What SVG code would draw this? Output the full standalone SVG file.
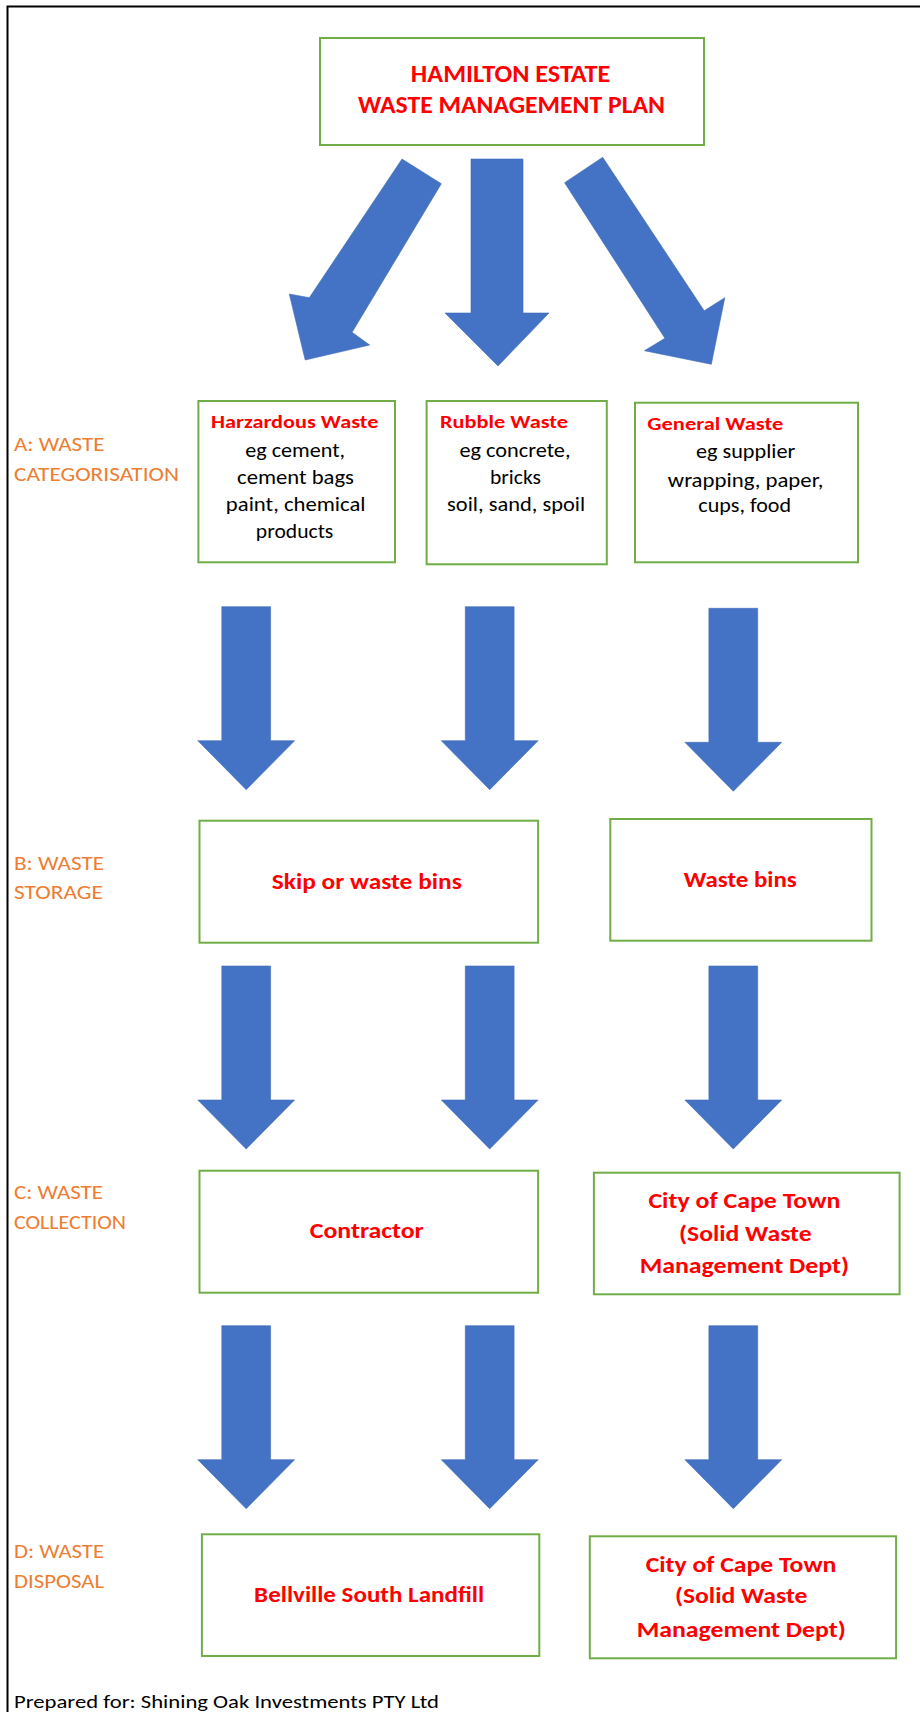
<svg xmlns="http://www.w3.org/2000/svg" width="920" height="1712" viewBox="0 0 920 1712">
<style>
.bg{fill:#ffffff}
.frame{fill:none;stroke:#000000;stroke-width:2}
.box{fill:#ffffff;stroke:#70AD47;stroke-width:2}
.arrow{fill:#4472C4;stroke:#3F6BB8;stroke-width:0.6}
text{font-family:Carlito,Lato,"Liberation Sans",sans-serif}
.title{font-size:24px;font-weight:bold;fill:#FF0000;text-anchor:middle}
.head{font-size:17.5px;font-weight:bold;fill:#FF0000}
.body{font-size:19.5px;fill:#000000;text-anchor:middle}
.lab{font-size:22.5px;font-weight:bold;fill:#FF0000;text-anchor:middle}
.stage{font-size:19.5px;fill:#ED7D31}
.foot{font-size:19px;fill:#000000}
</style>
<defs>
<path id="down" d="M-24.4,0 H24.4 V134 H48.4 L0,183 L-48.4,134 H-24.4 Z"/>
</defs>
<rect class="bg" x="0" y="0" width="920" height="1712"/>
<path class="frame" d="M921,6.5 H7.5 V1713"/>

<g id="stage-labels">
<text class="stage" x="14" y="450.7" textLength="90.5" lengthAdjust="spacingAndGlyphs">A: WASTE</text>
<text class="stage" x="14" y="480.7" textLength="165" lengthAdjust="spacingAndGlyphs">CATEGORISATION</text>
<text class="stage" x="14" y="870" textLength="90" lengthAdjust="spacingAndGlyphs">B: WASTE</text>
<text class="stage" x="14" y="899.3" textLength="89" lengthAdjust="spacingAndGlyphs">STORAGE</text>
<text class="stage" x="14" y="1199.3" textLength="89" lengthAdjust="spacingAndGlyphs">C: WASTE</text>
<text class="stage" x="14" y="1229.3" textLength="112" lengthAdjust="spacingAndGlyphs">COLLECTION</text>
<text class="stage" x="14" y="1558.3" textLength="90" lengthAdjust="spacingAndGlyphs">D: WASTE</text>
<text class="stage" x="14" y="1588.3" textLength="90" lengthAdjust="spacingAndGlyphs">DISPOSAL</text>
</g>

<g id="connectors">
<path class="arrow" d="M402,159 L441.3,183.7 L352.1,332.3 L369.7,345 L305.2,360 L289.3,294 L309.3,297.7 Z"/>
<path class="arrow" d="M471,159 H523 V313 H549 L498,366 L445,313 H471 Z"/>
<path class="arrow" d="M602.7,157.3 L564.6,182.7 L664.9,338.3 L644.4,350.7 L711.3,364.3 L724.8,297.7 L704.2,310.7 Z"/>
<use href="#down" class="arrow" x="246.2" y="606.7"/>
<use href="#down" class="arrow" x="489.7" y="606.7"/>
<use href="#down" class="arrow" x="733.3" y="608.3"/>
<use href="#down" class="arrow" x="246.2" y="966"/>
<use href="#down" class="arrow" x="489.7" y="966"/>
<use href="#down" class="arrow" x="733.3" y="966"/>
<use href="#down" class="arrow" x="246.2" y="1325.7"/>
<use href="#down" class="arrow" x="489.7" y="1325.7"/>
<use href="#down" class="arrow" x="733.3" y="1325.7"/>
</g>

<g id="plan">
<rect class="box" x="320" y="38" width="384" height="107"/>
<text class="title" x="510.6" y="81.7" textLength="199.5" lengthAdjust="spacingAndGlyphs">HAMILTON ESTATE</text>
<text class="title" x="511.5" y="113.3" textLength="307" lengthAdjust="spacingAndGlyphs">WASTE  MANAGEMENT PLAN</text>
</g>

<g id="hazardous">
<rect class="box" x="198.4" y="401" width="196.6" height="161.3"/>
<text class="head" x="211" y="428.3" textLength="167.5" lengthAdjust="spacingAndGlyphs">Harzardous Waste</text>
<text class="body" x="295.2" y="456.7" textLength="99.8" lengthAdjust="spacingAndGlyphs">eg cement,</text>
<text class="body" x="295.5" y="484" textLength="116.8" lengthAdjust="spacingAndGlyphs">cement bags</text>
<text class="body" x="295.7" y="510.7" textLength="139.7" lengthAdjust="spacingAndGlyphs">paint, chemical</text>
<text class="body" x="294.6" y="538.3" textLength="77.5" lengthAdjust="spacingAndGlyphs">products</text>
</g>

<g id="rubble">
<rect class="box" x="426.6" y="401" width="180.2" height="163.3"/>
<text class="head" x="440" y="428.3" textLength="128" lengthAdjust="spacingAndGlyphs">Rubble Waste</text>
<text class="body" x="515" y="456.7" textLength="111" lengthAdjust="spacingAndGlyphs">eg concrete,</text>
<text class="body" x="515.5" y="484" textLength="51" lengthAdjust="spacingAndGlyphs">bricks</text>
<text class="body" x="516.1" y="510.7" textLength="138" lengthAdjust="spacingAndGlyphs">soil, sand, spoil</text>
</g>

<g id="general">
<rect class="box" x="635" y="402.7" width="223" height="159.6"/>
<text class="head" x="647.3" y="430" textLength="136" lengthAdjust="spacingAndGlyphs">General Waste</text>
<text class="body" x="745.6" y="458.3" textLength="99.2" lengthAdjust="spacingAndGlyphs">eg supplier</text>
<text class="body" x="745.6" y="486.7" textLength="155.5" lengthAdjust="spacingAndGlyphs">wrapping, paper,</text>
<text class="body" x="744.7" y="511.7" textLength="92.7" lengthAdjust="spacingAndGlyphs">cups, food</text>
</g>

<g id="skip">
<rect class="box" x="199.5" y="820.7" width="338.6" height="122"/>
<text class="lab" x="366.8" y="889" textLength="190" lengthAdjust="spacingAndGlyphs">Skip  or waste bins</text>
</g>

<g id="bins">
<rect class="box" x="610.3" y="819" width="261.2" height="121.7"/>
<text class="lab" x="740.3" y="886.7" textLength="113" lengthAdjust="spacingAndGlyphs">Waste bins</text>
</g>

<g id="contractor">
<rect class="box" x="199.5" y="1170.7" width="338.6" height="122"/>
<text class="lab" x="366.8" y="1238.3" textLength="114" lengthAdjust="spacingAndGlyphs">Contractor</text>
</g>

<g id="city-collection">
<rect class="box" x="593.9" y="1172.7" width="305.7" height="121.6"/>
<text class="lab" x="744.4" y="1208.3" textLength="192" lengthAdjust="spacingAndGlyphs">City of Cape Town</text>
<text class="lab" x="745.3" y="1240.7" textLength="132.6" lengthAdjust="spacingAndGlyphs">(Solid  Waste</text>
<text class="lab" x="744.4" y="1273.3" textLength="209.5" lengthAdjust="spacingAndGlyphs">Management Dept)</text>
</g>

<g id="landfill">
<rect class="box" x="201.9" y="1534.3" width="337.4" height="121.7"/>
<text class="lab" x="369.1" y="1601.7" textLength="230" lengthAdjust="spacingAndGlyphs">Bellville South Landfill</text>
</g>

<g id="city-disposal">
<rect class="box" x="589.8" y="1536.3" width="306.3" height="122"/>
<text class="lab" x="741" y="1571.7" textLength="190.7" lengthAdjust="spacingAndGlyphs">City of Cape Town</text>
<text class="lab" x="741.2" y="1603.3" textLength="132.6" lengthAdjust="spacingAndGlyphs">(Solid  Waste</text>
<text class="lab" x="741.2" y="1637.3" textLength="209" lengthAdjust="spacingAndGlyphs">Management Dept)</text>
</g>

<g id="footer">
<text class="foot" x="14" y="1708.3" textLength="425" lengthAdjust="spacingAndGlyphs">Prepared for: Shining Oak Investments PTY Ltd</text>
</g>
</svg>
